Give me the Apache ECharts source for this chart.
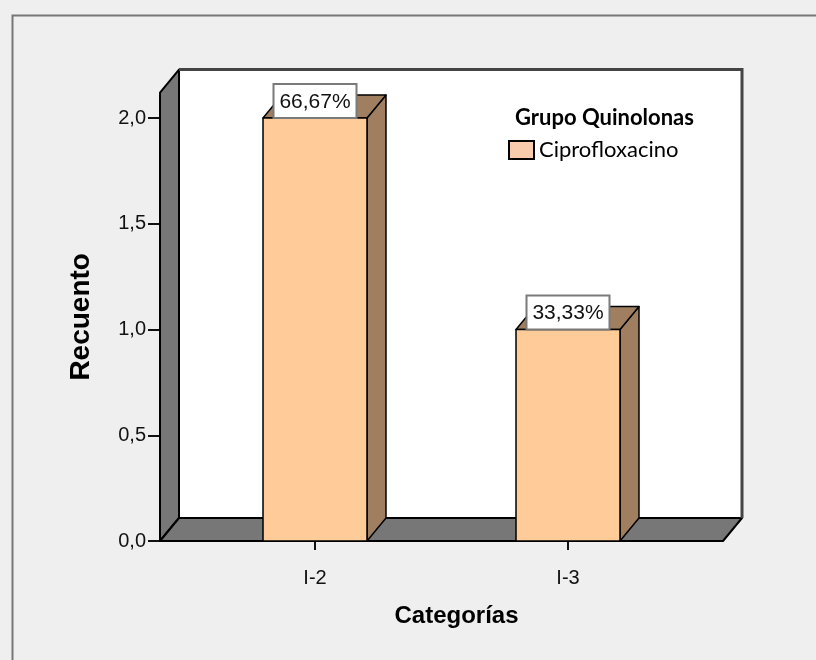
<!DOCTYPE html>
<html>
<head>
<meta charset="utf-8">
<script src="https://cdn.jsdelivr.net/npm/echarts@6/dist/echarts.min.js"></script>
<style>
  html, body { margin: 0; padding: 0; background: #efefef; }
  #chart { width: 816px; height: 660px; }
</style>
</head>
<body>
<div id="chart"></div>
<script>
// Counts per category
const categories = ['I-2', 'I-3'];
const counts = [2, 1];
const yTicks = [0, 0.5, 1, 1.5, 2];
const seriesName = 'Ciprofloxacino';
const legendTitle = 'Grupo Quinolonas';
const xTitle = 'Categorías';
const yTitle = 'Recuento';

// 3D look: depth offset of the walls and bars
const DX = 19, DY = -23;
const PAD = 28.5;          // floor overhang beyond the category band
const Y_TOP = 2.12;        // top of the side wall, in axis units
const BAR_RATIO = 0.411;   // bar width as share of the band

const FRONT = '#ffcc99', SIDE = '#a07f60', WALL = '#777777';
const ARIAL = '"Liberation Sans", Arial, sans-serif';
const total = counts.reduce((a, b) => a + b, 0);
const pct = v => (v / total * 100).toFixed(2).replace('.', ',') + '%';
const dec = v => v.toFixed(1).replace('.', ',');

const chart = echarts.init(document.getElementById('chart'), null, { renderer: 'canvas' });

function renderFrame(params, api) {
  const cs = params.coordSys;
  const base = api.coord([0, 0])[1];
  const topY = api.coord([0, Y_TOP])[1];
  const xl = cs.x - PAD, xr = cs.x + cs.width + PAD;
  return {
    type: 'group',
    children: [
      { type: 'rect', shape: { x: xl + DX, y: topY + DY, width: xr - xl, height: base - topY },
        style: { fill: '#ffffff' } },
      { type: 'polygon', shape: { points: [[xl, base], [xl, topY], [xl + DX, topY + DY], [xl + DX, base + DY]] },
        style: { fill: WALL, stroke: '#000', lineWidth: 2, lineJoin: 'round' } },
      { type: 'polygon', shape: { points: [[xl, base], [xl + DX, base + DY], [xr + DX, base + DY], [xr, base]] },
        style: { fill: WALL, stroke: '#000', lineWidth: 2, lineJoin: 'round' } },
      { type: 'polyline', shape: { points: [[xl + DX, topY + DY], [xr + DX, topY + DY], [xr + DX, base + DY]] },
        style: { stroke: '#444', lineWidth: 3, fill: null } }
    ]
  };
}

function renderBar(params, api) {
  const idx = api.value(0), v = api.value(1);
  const top = api.coord([idx, v]);
  const base = api.coord([idx, 0]);
  const bw = api.size([1, 0])[0] * BAR_RATIO;
  const x0 = top[0] - bw / 2, x1 = top[0] + bw / 2;
  const yT = top[1], yB = base[1];
  const edge = { stroke: '#000', lineWidth: 1.5, lineJoin: 'round' };
  const boxW = 83, boxH = 34;
  return {
    type: 'group',
    children: [
      { type: 'polygon', shape: { points: [[x1, yT], [x1 + DX, yT + DY], [x1 + DX, yB + DY], [x1, yB]] },
        style: Object.assign({ fill: SIDE }, edge) },
      { type: 'polygon', shape: { points: [[x0, yT], [x0 + DX, yT + DY], [x1 + DX, yT + DY], [x1, yT]] },
        style: Object.assign({ fill: SIDE }, edge) },
      { type: 'rect', shape: { x: x0, y: yT, width: bw, height: yB - yT },
        style: Object.assign({ fill: FRONT }, edge) },
      { type: 'rect', shape: { x: top[0] - boxW / 2, y: yT - boxH, width: boxW, height: boxH },
        style: { fill: '#ffffff', stroke: '#7a7a7a', lineWidth: 2 } },
      { type: 'text', x: top[0], y: yT - boxH / 2 + 1,
        style: { text: pct(v), fill: '#111', align: 'center', verticalAlign: 'middle',
                 font: '21px ' + ARIAL } }
    ]
  };
}

chart.setOption({
  backgroundColor: '#efefef',
  animation: false,
  graphic: [{
    type: 'rect', left: 10, top: 13, z: -10, silent: true,
    shape: { width: 830, height: 680 },
    style: { fill: 'none', stroke: '#777', lineWidth: 2 }
  }],
  title: {
    text: legendTitle, left: 515, top: 107, padding: 0,
    textStyle: { fontFamily: 'Lato', fontWeight: 'bold', fontSize: 22, color: '#000' }
  },
  legend: {
    left: 508, top: 139, padding: 0, itemWidth: 25, itemHeight: 18, itemGap: 5,
    data: [{ name: seriesName, icon: 'rect',
             itemStyle: { color: '#f8cbad', borderColor: '#000', borderWidth: 2 } }],
    textStyle: { fontFamily: 'Lato', fontSize: 22, color: '#000' }
  },
  grid: { left: 188.5, right: 121.5, top: 541 - Y_TOP * 211.5, bottom: 119, containLabel: false },
  xAxis: {
    type: 'category', data: categories,
    name: xTitle, nameLocation: 'middle', nameGap: 63,
    nameTextStyle: { fontFamily: ARIAL, fontWeight: 'bold', fontSize: 24, color: '#000',
                     padding: [0, 0, 0, 30] },
    axisLine: { show: false },
    axisTick: { show: true, alignWithLabel: true, length: 9, lineStyle: { color: '#111', width: 2 } },
    axisLabel: { margin: 27, fontFamily: ARIAL, fontSize: 20, color: '#111' },
    splitLine: { show: false }
  },
  yAxis: {
    type: 'value', min: 0, max: Y_TOP, offset: PAD,
    name: yTitle, nameLocation: 'middle', nameGap: 65,
    nameTextStyle: { fontFamily: ARIAL, fontWeight: 'bold', fontSize: 28, color: '#000' },
    axisLine: { show: false },
    axisTick: { show: true, length: 12, customValues: yTicks, lineStyle: { color: '#111', width: 2 } },
    axisLabel: { margin: 14, customValues: yTicks, formatter: dec,
                 fontFamily: ARIAL, fontSize: 20, color: '#111' },
    splitLine: { show: false }
  },
  series: [
    { type: 'custom', name: 'marco', silent: true, z: 1, data: [[0, 0]], renderItem: renderFrame },
    { type: 'custom', name: seriesName, z: 2, itemStyle: { color: '#f8cbad' },
      data: counts.map((c, i) => [i, c]), renderItem: renderBar }
  ]
});
</script>
</body>
</html>
